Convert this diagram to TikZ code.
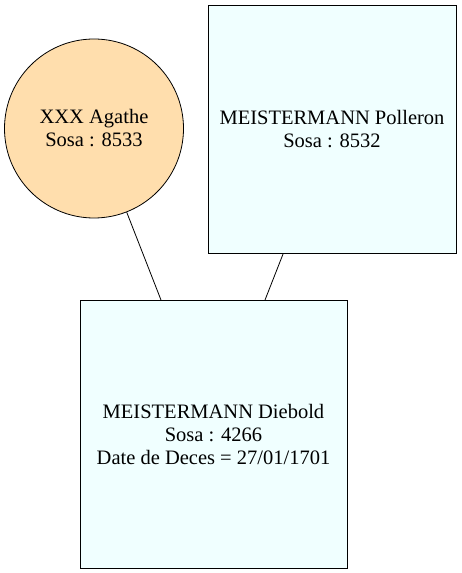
\documentclass[tikz,border=0pt]{standalone}
\usepackage{fontspec}
\setmainfont{Liberation Serif}
\begin{document}
\begin{tikzpicture}[x=1pt,y=1pt,
  person/.style={draw=black, line width=0.8pt, align=center, inner sep=0pt,
    font=\fontsize{20.5}{23}\selectfont},
  male/.style={person, rectangle, fill=azureish},
  female/.style={person, circle, fill=navajo},
  link/.style={draw=black, line width=0.8pt}]
\definecolor{azureish}{HTML}{F0FFFF}
\definecolor{navajo}{HTML}{FFDEAD}
\useasboundingbox (0,0) rectangle (462,573);
\node[female, minimum size=179pt] (agathe) at (94,444.5) {XXX Agathe\\Sosa : 8533};
\node[male, minimum width=248pt, minimum height=248pt] (polleron) at (332,444) {MEISTERMANN Polleron\\Sosa : 8532};
\node[male, minimum width=267pt, minimum height=268pt] (diebold) at (213.5,139) {MEISTERMANN Diebold\\Sosa : 4266\\Date de Deces = 27/01/1701};
\coordinate (d1) at (161,273);
\coordinate (d2) at (265,273);
\draw[link] (agathe) -- (d1);
\draw[link] (polleron) -- (d2);
\end{tikzpicture}
\end{document}
